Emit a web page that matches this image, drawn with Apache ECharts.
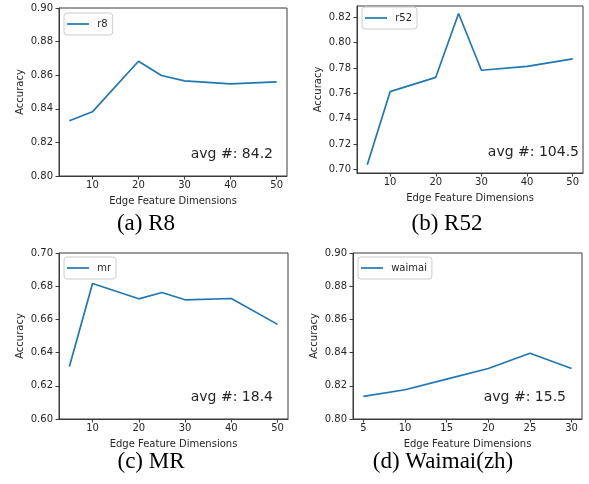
<!DOCTYPE html>
<html>
<head>
<meta charset="utf-8">
<title>Edge Feature Dimensions</title>
<script src="https://cdn.jsdelivr.net/npm/echarts@6/dist/echarts.min.js"></script>
<style>
    html, body { margin: 0; padding: 0; background: #fff; }
    #main { width: 589px; height: 484px; }
</style>
</head>
<body>
<div id="main"></div>
<script>
// 横轴：边特征维度
var dimsMain = [5, 10, 20, 25, 30, 40, 50];
var dimsWaimai = [5, 10, 15, 20, 25, 30];

// 各数据集的准确率
var accR8 = [0.8329, 0.8382, 0.8683, 0.8598, 0.8566, 0.8548, 0.8560];
var accR52 = [0.7037, 0.7614, 0.7727, 0.8231, 0.7783, 0.7814, 0.7872];
var accMR = [0.6316, 0.6816, 0.6724, 0.6762, 0.6718, 0.6726, 0.6570];
var accWaimai = [0.8136, 0.8176, 0.8240, 0.8304, 0.8396, 0.8304];

// 刻度
var xTicksMain = [10, 20, 30, 40, 50];
var xTicksWaimai = [5, 10, 15, 20, 25, 30];
var yTicksR8 = [0.80, 0.82, 0.84, 0.86, 0.88, 0.90];
var yTicksR52 = [0.70, 0.72, 0.74, 0.76, 0.78, 0.80, 0.82];
var yTicksMR = [0.60, 0.62, 0.64, 0.66, 0.68, 0.70];
var yTicksWaimai = [0.80, 0.82, 0.84, 0.86, 0.88, 0.90];

// 图例名称 / 平均值 / 子图标题
var seriesNames = ['r8', 'r52', 'mr', 'waimai'];
var avgTexts = ['avg #: 84.2', 'avg #: 104.5', 'avg #: 18.4', 'avg #: 15.5'];
var captions = ['(a) R8', '(b) R52', '(c) MR', '(d) Waimai(zh)'];

var LINE_COLOR = '#1f77b4';
var TEXT_COLOR = '#262626';
var SPINE_COLOR = '#3a3a3a';
var SANS = 'DejaVu Sans';

// 每个子图的布局
var panels = [
    { xs: dimsMain,   ys: accR8,     xMin: 2.75, xMax: 52.25, xTicks: xTicksMain,   yMin: 0.80,   yMax: 0.90,  yTicks: yTicksR8,
      grid: { left: 59, top: 8, width: 228, height: 168 }, legend: { left: 64, top: 13 },
      avg: [273, 154], cap: [146, 224] },
    { xs: dimsMain,   ys: accR52,    xMin: 2.75, xMax: 52.25, xTicks: xTicksMain,   yMin: 0.6972, yMax: 0.829, yTicks: yTicksR52,
      grid: { left: 357, top: 6, width: 226, height: 167 }, legend: { left: 362, top: 7 },
      avg: [579, 152], cap: [447, 224] },
    { xs: dimsMain,   ys: accMR,     xMin: 2.75, xMax: 52.25, xTicks: xTicksMain,   yMin: 0.60,   yMax: 0.70,  yTicks: yTicksMR,
      grid: { left: 59, top: 253, width: 229, height: 166 }, legend: { left: 64, top: 257 },
      avg: [273, 397], cap: [151, 462] },
    { xs: dimsWaimai, ys: accWaimai, xMin: 3.75, xMax: 31.25, xTicks: xTicksWaimai, yMin: 0.80,   yMax: 0.90,  yTicks: yTicksWaimai,
      grid: { left: 353, top: 253, width: 229, height: 166 }, legend: { left: 358, top: 257 },
      avg: [566, 397], cap: [443, 462] }
];

function buildPairs(xs, ys) {
    var out = [];
    for (var i = 0; i < xs.length; i++) {
        out.push([xs[i], ys[i]]);
    }
    return out;
}

var grids = [], xAxes = [], yAxes = [], series = [], legends = [], graphics = [];

panels.forEach(function(p, i) {
    grids.push({
        left: p.grid.left, top: p.grid.top, width: p.grid.width, height: p.grid.height,
        show: true, borderColor: SPINE_COLOR, borderWidth: 1, backgroundColor: 'transparent'
    });
    xAxes.push({
        type: 'value', gridIndex: i, min: p.xMin, max: p.xMax,
        name: 'Edge Feature Dimensions', nameLocation: 'middle', nameGap: 20,
        nameTextStyle: { fontFamily: SANS, fontSize: 10, color: TEXT_COLOR },
        axisLine: { show: true, onZero: false, lineStyle: { color: SPINE_COLOR } },
        axisTick: { show: true, length: 3.5, customValues: p.xTicks, lineStyle: { color: SPINE_COLOR } },
        axisLabel: { customValues: p.xTicks, margin: 4, fontFamily: SANS, fontSize: 10, color: TEXT_COLOR },
        splitLine: { show: false }
    });
    yAxes.push({
        type: 'value', gridIndex: i, min: p.yMin, max: p.yMax,
        name: 'Accuracy', nameLocation: 'middle', nameGap: 34,
        nameTextStyle: { fontFamily: SANS, fontSize: 10, color: TEXT_COLOR },
        axisLine: { show: true, onZero: false, lineStyle: { color: SPINE_COLOR } },
        axisTick: { show: true, length: 3.5, customValues: p.yTicks, lineStyle: { color: SPINE_COLOR } },
        axisLabel: {
            customValues: p.yTicks, margin: 6, fontFamily: SANS, fontSize: 10, color: TEXT_COLOR,
            formatter: function(v) { return v.toFixed(2); }
        },
        splitLine: { show: false }
    });
    series.push({
        name: seriesNames[i], type: 'line', xAxisIndex: i, yAxisIndex: i,
        data: buildPairs(p.xs, p.ys),
        symbol: 'none', lineStyle: { color: LINE_COLOR, width: 1.7 },
        itemStyle: { color: LINE_COLOR }, animation: false
    });
    // 图例：只画一条短线，不要圆点
    legends.push({
        data: [seriesNames[i]], left: p.legend.left, top: p.legend.top,
        orient: 'vertical', icon: 'rect', itemWidth: 22, itemHeight: 1.7,
        itemStyle: { color: LINE_COLOR },
        padding: [6, 5, 6, 3], borderColor: '#cccccc', borderWidth: 1, borderRadius: 3,
        formatter: ' {name}',
        textStyle: { fontFamily: SANS, fontSize: 10, color: TEXT_COLOR }
    });
    // 平均值注释
    graphics.push({
        type: 'text', x: p.avg[0], y: p.avg[1],
        style: { text: avgTexts[i], font: '14px "DejaVu Sans"', fill: TEXT_COLOR, textAlign: 'right', textVerticalAlign: 'middle' }
    });
    // 子图标题
    graphics.push({
        type: 'text', x: p.cap[0], y: p.cap[1],
        style: { text: captions[i], font: '23px "Liberation Serif"', fill: '#000', textAlign: 'center', textVerticalAlign: 'middle' }
    });
});

var chart = echarts.init(document.getElementById('main'), null, { renderer: 'canvas' });
chart.setOption({
    animation: false,
    grid: grids,
    xAxis: xAxes,
    yAxis: yAxes,
    legend: legends,
    series: series,
    graphic: graphics
});
</script>
</body>
</html>
